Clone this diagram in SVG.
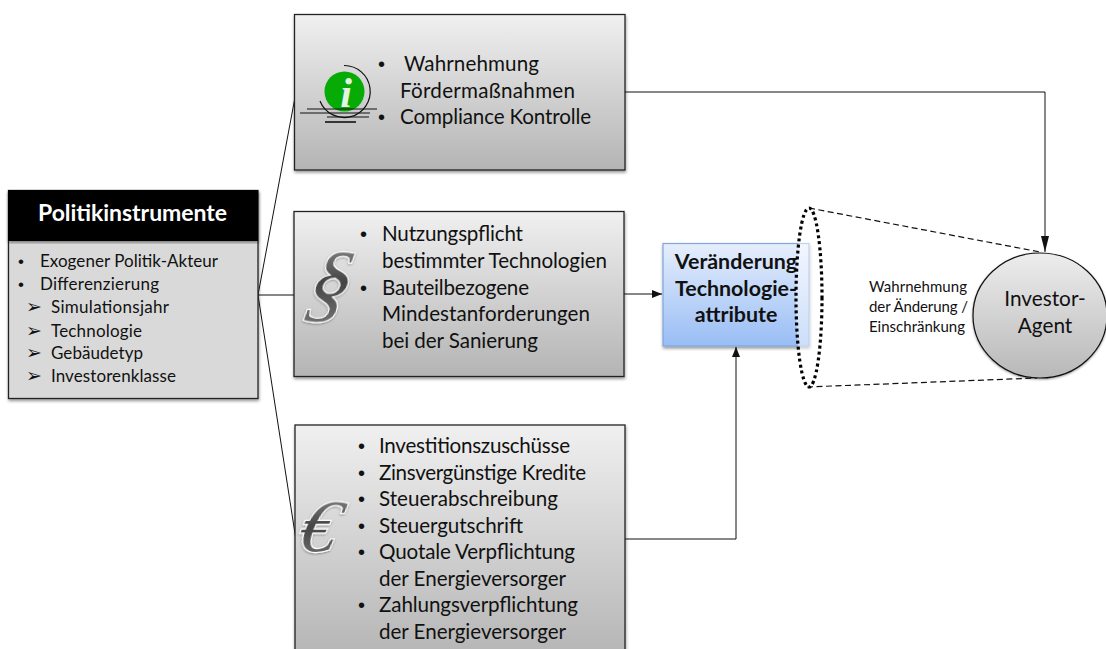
<svg xmlns="http://www.w3.org/2000/svg" width="1106" height="649" viewBox="0 0 1106 649">
<style>
text{font-family:Lato,"Liberation Sans",sans-serif;fill:#111}
.m{font-size:20.6px}
.s{font-size:17px}
.t{font-size:15px}
.b{font-size:21.4px;font-weight:700}
.dot{font-family:"Liberation Sans",sans-serif;font-size:20px}
.ds{font-family:"Liberation Sans",sans-serif;font-size:17px}
.ar{font-family:"DejaVu Sans",sans-serif;font-size:19px}
.box{stroke:#222;stroke-width:1.3;filter:url(#sh)}
.gray{fill:url(#gr)}
.c{fill:none;stroke:#111;stroke-width:1}
.d{fill:none;stroke:#111;stroke-width:1.2;stroke-dasharray:6 3.5}
.icon{font-family:"Liberation Serif",serif;font-style:italic;stroke:#fff;stroke-width:2.5;paint-order:stroke;filter:url(#sh2)}
</style>
<defs>
<linearGradient id="gr" x1="0" y1="0" x2="0" y2="1"><stop offset="0" stop-color="#f0f0f0"/><stop offset="1" stop-color="#b4b4b4"/></linearGradient>
<linearGradient id="gr3" gradientUnits="userSpaceOnUse" x1="0" y1="425" x2="0" y2="660"><stop offset="0" stop-color="#f0f0f0"/><stop offset="1" stop-color="#b4b4b4"/></linearGradient>
<linearGradient id="bl" x1="0" y1="0" x2="0" y2="1"><stop offset="0" stop-color="#e6eefc"/><stop offset="1" stop-color="#98bdf5"/></linearGradient>
<linearGradient id="ci" x1="0" y1="0" x2="0" y2="1"><stop offset="0" stop-color="#ededed"/><stop offset="1" stop-color="#b8b8b8"/></linearGradient>
<linearGradient id="ic" x1="0" y1="0" x2="0" y2="1"><stop offset="0" stop-color="#999"/><stop offset=".5" stop-color="#444"/><stop offset="1" stop-color="#777"/></linearGradient>
<filter id="sh" x="-5%" y="-5%" width="110%" height="110%"><feDropShadow dx="0.5" dy="2" stdDeviation="1.5" flood-color="#000" flood-opacity=".4"/></filter>
<filter id="sh2" x="-20%" y="-20%" width="140%" height="140%"><feDropShadow dx="0" dy="1" stdDeviation="1" flood-color="#000" flood-opacity=".4"/></filter>
<marker id="a" viewBox="0 0 10 10" refX="10" refY="5" markerWidth="10" markerHeight="10" markerUnits="userSpaceOnUse" orient="auto"><path d="M0 1L10 5L0 9Z" fill="#111"/></marker>
<marker id="al" viewBox="0 0 16 10" refX="16" refY="5" markerWidth="16" markerHeight="10" markerUnits="userSpaceOnUse" orient="auto"><path d="M0 1L16 5L0 9Z" fill="#111"/></marker>
</defs>
<g id="connectors">
<path class="c" d="M258 295L296 92"/>
<path class="c" d="M258 295H294"/>
<path class="c" d="M258 295L296 540"/>
<path class="c" d="M625 92H1045V252" marker-end="url(#al)"/>
<path class="c" d="M624 294H662" marker-end="url(#a)"/>
<path class="c" d="M625 539H736V347" marker-end="url(#a)"/>
<path class="d" d="M809 208L1040 252"/>
<path class="d" d="M807 387L1037 378"/>
</g>
<g id="politikinstrumente">
<rect class="box" x="8.500" y="190.500" width="249.500" height="208" fill="#d9d9d9"/>
<rect x="8" y="190" width="250" height="51" fill="#000" filter="url(#sh)"/>
<text x="38" y="221" textLength="189" style="font-size:23px;font-weight:700;fill:#fff">Politikinstrumente</text>
<text class="ds" x="18" y="267">•</text><text class="s" x="40" y="267" textLength="178">Exogener Politik-Akteur</text>
<text class="ds" x="18" y="290">•</text><text class="s" x="40" y="290" textLength="119">Differenzierung</text>
<text class="ar" x="26" y="313">➢</text><text class="s" x="51" y="313" textLength="118">Simulationsjahr</text>
<text class="ar" x="26" y="337">➢</text><text class="s" x="51" y="337" textLength="91">Technologie</text>
<text class="ar" x="26" y="359">➢</text><text class="s" x="51" y="359" textLength="92">Gebäudetyp</text>
<text class="ar" x="26" y="382">➢</text><text class="s" x="51" y="382" textLength="125">Investorenklasse</text>
</g>
<g id="info">
<rect class="box gray" x="294.500" y="14.500" width="330.500" height="155.500"/>
<circle cx="344.500" cy="91.500" r="20" fill="#06ab06"/>
<text x="346" y="107" text-anchor="middle" style="font-family:'Liberation Serif',serif;font-style:italic;font-weight:700;font-size:42px;fill:#e4f3e4">i</text>
<path d="M344 65.500A26 26 0 1 1 320 101" fill="none" stroke="#111" stroke-width="1.2"/>
<path d="M307 109H377M300 113H370" stroke="#111" stroke-width="1" fill="none"/>
<path d="M327 117H369" stroke="#111" stroke-width="1"/>
<path d="M325 122H356" stroke="#111" stroke-width="1.6"/>
<text class="dot" x="378" y="71">•</text><text class="m" x="404" y="71" textLength="135">Wahrnehmung</text>
<text class="m" x="400" y="98" textLength="175">Fördermaßnahmen</text>
<text class="dot" x="378" y="124">•</text><text class="m" x="400" y="124" textLength="191">Compliance Kontrolle</text>
</g>
<g id="nutzung">
<rect class="box gray" x="294" y="211.500" width="330" height="165"/>
<text class="icon" transform="translate(303 311) skewX(-12) scale(.9 .9)" x="0" y="0" style="font-size:96px;fill:url(#ic)">§</text>
<text class="dot" x="360" y="241">•</text><text class="m" x="382" y="241" textLength="141">Nutzungspflicht</text>
<text class="m" x="382" y="268" textLength="225">bestimmter Technologien</text>
<text class="dot" x="360" y="295">•</text><text class="m" x="382" y="295" textLength="147">Bauteilbezogene</text>
<text class="m" x="382" y="321" textLength="208">Mindestanforderungen</text>
<text class="m" x="382" y="348" textLength="156">bei der Sanierung</text>
</g>
<g id="foerderung">
<rect class="box" x="295" y="425" width="330" height="240" fill="url(#gr3)"/>
<text class="icon" transform="translate(295 551) skewX(-14) scale(.98 .95)" x="0" y="0" style="font-size:78px;fill:url(#ic)">€</text>
<text class="dot" x="358" y="453">•</text><text class="m" x="379" y="453" textLength="191">Investitionszuschüsse</text>
<text class="dot" x="358" y="480">•</text><text class="m" x="379" y="480" textLength="207">Zinsvergünstige Kredite</text>
<text class="dot" x="358" y="506">•</text><text class="m" x="379" y="506" textLength="179">Steuerabschreibung</text>
<text class="dot" x="358" y="533">•</text><text class="m" x="379" y="533" textLength="144">Steuergutschrift</text>
<text class="dot" x="358" y="559">•</text><text class="m" x="379" y="559" textLength="196">Quotale Verpflichtung</text>
<text class="m" x="379" y="586" textLength="187">der Energieversorger</text>
<text class="dot" x="358" y="612">•</text><text class="m" x="379" y="612" textLength="199">Zahlungsverpflichtung</text>
<text class="m" x="379" y="639" textLength="187">der Energieversorger</text>
</g>
<g id="veraenderung">
<rect x="663" y="243.500" width="146" height="102.500" fill="url(#bl)" stroke="#7ea6dc" stroke-width="1.2" filter="url(#sh)"/>
<text class="b" x="736" y="269" text-anchor="middle">Veränderung</text>
<text class="b" x="736" y="296" text-anchor="middle">Technologie-</text>
<text class="b" x="736" y="322" text-anchor="middle">attribute</text>
</g>
<g id="wahrnehmung-ellipse">
<ellipse cx="809" cy="297.500" rx="13" ry="89.500" fill="#fff" fill-opacity=".5" stroke="#000" stroke-width="3.2" stroke-dasharray="3 3"/>
</g>
<g id="wahrnehmung-label">
<text class="t" x="869" y="292" textLength="98">Wahrnehmung</text>
<text class="t" x="869" y="312" textLength="99">der Änderung /</text>
<text class="t" x="869" y="332" textLength="96">Einschränkung</text>
</g>
<g id="investor">
<ellipse cx="1040" cy="315.500" rx="67" ry="62.500" fill="url(#ci)" stroke="#111" stroke-width="1.2" filter="url(#sh2)"/>
<text x="1045" y="296" dy="10" text-anchor="middle" style="font-size:20.8px">Investor-</text>
<text x="1045" y="333" text-anchor="middle" style="font-size:20.8px">Agent</text>
</g>
</svg>
